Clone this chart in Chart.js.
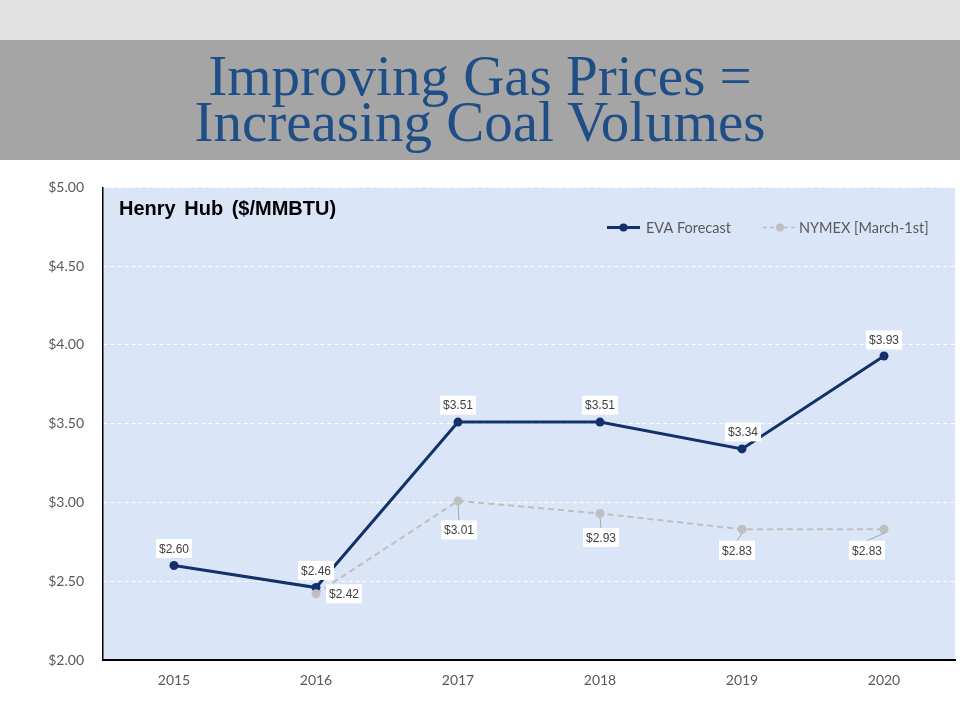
<!DOCTYPE html>
<html>
<head>
<meta charset="utf-8">
<script src="https://cdn.jsdelivr.net/npm/chart.js@4.4.0/dist/chart.umd.min.js"></script>
<style>
  body { margin: 0; width: 960px; height: 720px; background: #fff; overflow: hidden; }
  .topbar { height: 40px; background: #e1e1e1; }
  .titlebar { height: 120px; background: #a5a5a5; text-align: center; overflow: hidden; }
  .titlebar h1 { margin: 0; padding-top: 13px; font-family: "Liberation Serif", "DejaVu Serif", serif;
    font-weight: normal; font-size: 57px; line-height: 46px; color: #1f4e86; }
  .wrap { position: relative; width: 960px; height: 560px; }
</style>
</head>
<body>
<div class="topbar"></div>
<div class="titlebar"><h1>Improving Gas Prices =<br>Increasing Coal Volumes</h1></div>
<div class="wrap"><canvas id="gasChart" width="960" height="560"></canvas></div>
<script>
const years = ['2015', '2016', '2017', '2018', '2019', '2020'];
const evaForecast = [2.60, 2.46, 3.51, 3.51, 3.34, 3.93];
const nymex = [null, 2.42, 3.01, 2.93, 2.83, 2.83];
const seriesNames = ['EVA Forecast', 'NYMEX [March-1st]'];

const navy = '#12316a';
const grey = '#bfbfbf';
const fmt = v => '$' + v.toFixed(2);

// label offsets (dx, dy) from each point, keyed by series name
const labelOffsets = {
  'EVA Forecast': [[0, -17], [0, -17], [0, -17], [0, -17], [1, -17], [0, -16]],
  'NYMEX [March-1st]': [null, [28, 0], [1, 29], [1, 24], [-5, 21], [-17, 21]]
};

const chartExtras = {
  id: 'chartExtras',
  beforeDraw(chart) {
    const { ctx, chartArea: a } = chart;
    ctx.save();
    ctx.fillStyle = '#dae6f8';
    ctx.fillRect(a.left, a.top, a.right - a.left, a.bottom - a.top);
    ctx.restore();
  },
  afterDatasetsDraw(chart) {
    const { ctx, chartArea: a } = chart;
    ctx.save();
    // data labels
    ctx.font = '12px "Liberation Sans", Arial, sans-serif';
    ctx.textAlign = 'center';
    ctx.textBaseline = 'middle';
    chart.data.datasets.forEach((ds, di) => {
      const meta = chart.getDatasetMeta(di);
      const offs = labelOffsets[ds.label];
      const isNymex = ds.label === seriesNames[1];
      meta.data.forEach((pt, i) => {
        const v = ds.data[i];
        const off = offs[i];
        if (v == null || !off) return;
        const lx = pt.x + off[0], ly = pt.y + off[1];
        const txt = fmt(v);
        const w = ctx.measureText(txt).width + 6, h = 19;
        if (isNymex && Math.abs(off[1]) > 12) {
          ctx.strokeStyle = '#a6a6a6';
          ctx.lineWidth = 1;
          ctx.beginPath();
          ctx.moveTo(pt.x, pt.y + 4);
          ctx.lineTo(lx, ly - h / 2);
          ctx.stroke();
        }
        ctx.fillStyle = '#ffffff';
        ctx.fillRect(lx - w / 2, ly - h / 2, w, h);
        ctx.fillStyle = '#404040';
        ctx.fillText(txt, lx, ly + 1);
      });
    });
    // chart heading
    ctx.textAlign = 'left';
    ctx.fillStyle = '#000';
    ctx.font = 'bold 20px "Liberation Sans", Arial, sans-serif';
    ctx.wordSpacing = '3px';
    ctx.fillText('Henry Hub ($/MMBTU)', a.left + 16, a.top + 22);
    ctx.wordSpacing = '0px';
    // legend
    const ly = a.top + 40;
    ctx.font = '14.5px Lato, "Open Sans", sans-serif';
    ctx.strokeStyle = navy;
    ctx.lineWidth = 3;
    ctx.beginPath(); ctx.moveTo(607, ly); ctx.lineTo(640, ly); ctx.stroke();
    ctx.fillStyle = navy;
    ctx.beginPath(); ctx.arc(623.5, ly, 4, 0, Math.PI * 2); ctx.fill();
    ctx.fillStyle = '#595959';
    ctx.fillText(seriesNames[0], 646, ly + 1);
    ctx.strokeStyle = grey;
    ctx.lineWidth = 1.5;
    ctx.setLineDash([4, 3]);
    ctx.beginPath(); ctx.moveTo(763, ly); ctx.lineTo(797, ly); ctx.stroke();
    ctx.setLineDash([]);
    ctx.fillStyle = grey;
    ctx.beginPath(); ctx.arc(780, ly, 4, 0, Math.PI * 2); ctx.fill();
    ctx.fillStyle = '#595959';
    ctx.fillText(seriesNames[1], 799, ly + 1);
    ctx.restore();
  }
};

new Chart(document.getElementById('gasChart'), {
  type: 'line',
  data: {
    labels: years,
    datasets: [
      {
        label: seriesNames[1],
        data: nymex,
        borderColor: grey,
        backgroundColor: grey,
        borderWidth: 2,
        borderDash: [6, 4],
        pointRadius: 4.5,
        pointBorderWidth: 0,
        tension: 0
      },
      {
        label: seriesNames[0],
        data: evaForecast,
        borderColor: navy,
        backgroundColor: navy,
        borderWidth: 3,
        pointRadius: 4.5,
        pointBorderWidth: 0,
        tension: 0
      }
    ]
  },
  options: {
    responsive: false,
    animation: false,
    layout: { padding: { top: 25, right: 5, left: 0, bottom: 0 } },
    plugins: { legend: { display: false }, tooltip: { enabled: false } },
    scales: {
      x: {
        offset: true,
        grid: { display: false, drawTicks: false },
        border: { color: '#000', width: 2 },
        ticks: { color: '#595959', font: { family: 'Lato, "Open Sans", sans-serif', size: 14 }, padding: 12 },
        afterFit(scale) { scale.height = 60; }
      },
      y: {
        min: 2,
        max: 5,
        grid: { color: '#ffffff', lineWidth: 1, drawTicks: false },
        // in v4 border.dash styles the grid lines
        border: { color: '#000', width: 1.5, dash: [4, 3] },
        ticks: {
          stepSize: 0.5,
          color: '#595959',
          font: { family: 'Lato, "Open Sans", sans-serif', size: 14 },
          padding: 19,
          callback: v => fmt(v)
        },
        afterFit(scale) { scale.width = 103; }
      }
    }
  },
  plugins: [chartExtras]
});
</script>
</body>
</html>
